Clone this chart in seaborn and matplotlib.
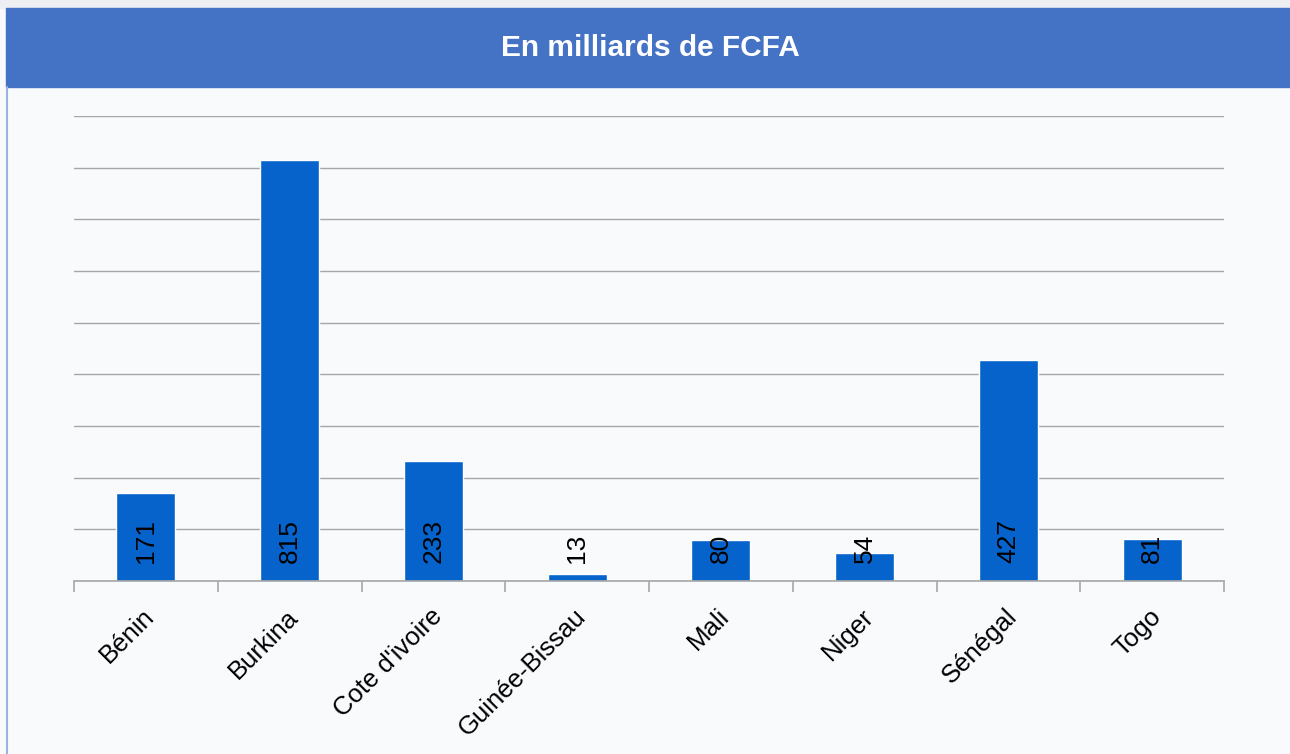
import matplotlib
matplotlib.use("Agg")
import matplotlib.pyplot as plt
from matplotlib.patches import Rectangle
from matplotlib.transforms import ScaledTranslation
import seaborn as sns

countries = ["Bénin", "Burkina", "Cote d'ivoire", "Guinée-Bissau", "Mali", "Niger", "Sénégal", "Togo"]
values = [171, 815, 233, 13, 80, 54, 427, 81]
title = "En milliards de FCFA"

sns.set_style("white")
plt.rcParams["font.family"] = ["Liberation Sans", "DejaVu Sans"]

W, H = 1290, 754
fig = plt.figure(figsize=(W / 100, H / 100), dpi=100, facecolor="#F9FAFC")

# top strip and title banner
fig.patches.append(Rectangle((0, 1 - 8 / H), 1, 8 / H, transform=fig.transFigure,
                             color="#EDEFF2", zorder=0))
fig.patches.append(Rectangle((6 / W, 1 - 87 / H), 1, 79 / H, transform=fig.transFigure,
                             color="#4472C4", zorder=1))
fig.add_artist(plt.Line2D([6.5 / W, 6.5 / W], [0, 1 - 87 / H], transform=fig.transFigure,
                          color="#9BB3E0", lw=1.5))
fig.text(650 / W, 1 - 47.5 / H, title, color="white", fontsize=21.5, fontweight="bold",
         ha="center", va="center")

ax = fig.add_axes([74 / W, (H - 581) / H, (1224 - 74) / W, (581 - 116) / H])
ax.set_facecolor("none")

sns.barplot(x=countries, y=values, color="#0563CB", width=0.41, saturation=1, ax=ax)

ax.set_ylim(0, 900)
ax.set_xlim(-0.5, len(countries) - 0.5)
ax.set_yticks(range(0, 901, 100))
ax.set_yticklabels([])
ax.tick_params(axis="y", length=0)
ax.yaxis.grid(True, color="#A6A6A6", lw=1)
ax.set_axisbelow(True)
for s in ["top", "right", "left"]:
    ax.spines[s].set_visible(False)
ax.spines["bottom"].set_color("#A6A6A6")
ax.spines["bottom"].set_linewidth(1.2)

ax.set_xticks([i - 0.5 for i in range(len(countries) + 1)], minor=True)
ax.tick_params(axis="x", which="minor", bottom=True, length=8, color="#A6A6A6",
               width=1.2, direction="out")
ax.tick_params(axis="x", which="major", length=0, pad=23, labelcolor="black")
ax.set_xticklabels(countries, rotation=45, ha="right", va="center",
                   rotation_mode="anchor", fontsize=18.5, color="black")
shift = ScaledTranslation(5 / 100, 0, fig.dpi_scale_trans)
for lab in ax.get_xticklabels():
    lab.set_transform(lab.get_transform() + shift)
ax.set_xlabel("")
ax.set_ylabel("")

for i, v in enumerate(values):
    ax.annotate(str(v), (i, 0), xytext=(0, 13), textcoords="offset points",
                rotation=90, ha="center", va="bottom", fontsize=19, color="black")

fig.savefig("out.png", dpi=100, facecolor=fig.get_facecolor())
